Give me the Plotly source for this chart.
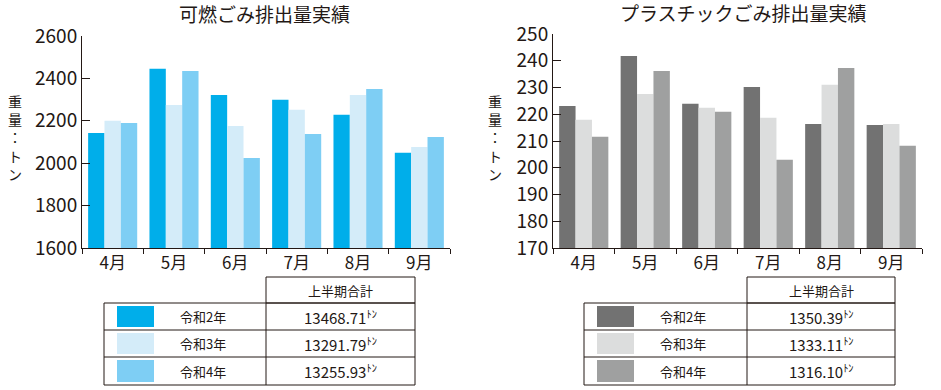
import plotly.graph_objects as go

months = ["4月", "5月", "6月", "7月", "8月", "9月"]
years = ["令和2年", "令和3年", "令和4年"]

burn_r2 = [2143, 2445, 2322, 2299, 2228, 2049]
burn_r3 = [2200, 2275, 2176, 2252, 2322, 2077]
burn_r4 = [2190, 2435, 2025, 2138, 2350, 2124]
burn_totals = ["13468.71", "13291.79", "13255.93"]

plas_r2 = [223.1, 241.8, 223.9, 230.2, 216.4, 216.0]
plas_r3 = [217.9, 227.6, 222.4, 218.7, 231.0, 216.4]
plas_r4 = [211.6, 236.2, 220.9, 203.0, 237.3, 208.2]
plas_totals = ["1350.39", "1333.11", "1316.10"]

burn_colors = ["#00AEEA", "#D4ECF9", "#7ECEF4"]
plas_colors = ["#727272", "#DCDDDD", "#9FA0A0"]

W, H = 941, 390
FONT = "Noto Sans CJK JP"
INK = "#231815"

def px(x):
    return x / W

def py(y):
    return 1 - y / H

fig = go.Figure()
for vals, col, name in zip([burn_r2, burn_r3, burn_r4], burn_colors, years):
    fig.add_trace(go.Bar(x=months, y=vals, marker_color=col, marker_line_width=0,
                         name=name, xaxis="x", yaxis="y", showlegend=False))
for vals, col, name in zip([plas_r2, plas_r3, plas_r4], plas_colors, years):
    fig.add_trace(go.Bar(x=months, y=vals, marker_color=col, marker_line_width=0,
                         name=name, xaxis="x2", yaxis="y2", showlegend=False))

axfont = dict(family=FONT, size=19, color=INK)
common_x = dict(type="category", showline=True, linecolor=INK, linewidth=1,
                ticks="outside", tickson="boundaries", ticklen=5, tickcolor=INK,
                showgrid=False, automargin=False,
                tickfont=dict(family=FONT, size=17, color=INK))
common_y = dict(showline=True, linecolor=INK, linewidth=1, ticks="inside",
                ticklen=8, tickcolor=INK, showgrid=False, zeroline=False,
                automargin=False, tickfont=axfont)

fig.update_layout(
    width=W, height=H, margin=dict(l=0, r=0, t=0, b=0),
    paper_bgcolor="white", plot_bgcolor="white",
    barmode="group", bargap=0.2, bargroupgap=0,
    xaxis=dict(domain=[px(82), px(450)], anchor="y", **common_x),
    yaxis=dict(domain=[py(248), py(36)], anchor="x", range=[1600, 2600], dtick=200, **common_y),
    xaxis2=dict(domain=[px(553), px(922)], anchor="y2", **common_x),
    yaxis2=dict(domain=[py(248), py(34)], anchor="x2", range=[170, 250], dtick=10, **common_y),
)

ann = []

def add_text(text, x, y, size, angle=0):
    ann.append(dict(text=text, x=px(x), y=py(y), xref="paper", yref="paper",
                    xanchor="center", yanchor="middle", showarrow=False, textangle=angle,
                    font=dict(family=FONT, size=size, color=INK)))

add_text("可燃ごみ排出量実績", 264, 14, 19)
add_text("プラスチックごみ排出量実績", 743, 13, 19)
ytitle = "<br>".join(list("重量：トン"))
for xc in [15, 495]:
    add_text(ytitle, xc, 137, 14)

shapes = []
rows_y = [303, 330, 357, 385]

def table(x0, xdiv, x1, colors, totals):
    line = dict(color=INK, width=1)
    shapes.append(dict(type="rect", xref="paper", yref="paper", x0=px(xdiv), x1=px(x1),
                       y0=py(rows_y[0]), y1=py(277), line=line))
    shapes.append(dict(type="rect", xref="paper", yref="paper", x0=px(x0), x1=px(x1),
                       y0=py(rows_y[3]), y1=py(rows_y[0]), line=line))
    for yy in rows_y[1:3]:
        shapes.append(dict(type="line", xref="paper", yref="paper", x0=px(x0), x1=px(x1),
                           y0=py(yy), y1=py(yy), line=line))
    shapes.append(dict(type="line", xref="paper", yref="paper", x0=px(xdiv), x1=px(xdiv),
                       y0=py(rows_y[3]), y1=py(rows_y[0]), line=line))
    add_text("上半期合計", (xdiv + x1) / 2, 290, 13)
    for i in range(3):
        top, bot = rows_y[i], rows_y[i + 1]
        shapes.append(dict(type="rect", xref="paper", yref="paper", x0=px(x0 + 13), x1=px(x0 + 50),
                           y0=py(bot - 3), y1=py(top + 3), line=dict(width=0), fillcolor=colors[i]))
        add_text(years[i], x0 + 99, (top + bot) / 2, 13)
        add_text(totals[i] + "<sup>ﾄﾝ</sup>", (xdiv + x1) / 2, (top + bot) / 2, 15)

table(104, 266, 415, burn_colors, burn_totals)
table(584, 747, 895, plas_colors, plas_totals)

fig.update_layout(annotations=ann, shapes=shapes)
fig.write_html("out.html", config={"displayModeBar": False},
               post_script="document.body.style.margin='0';document.body.style.overflow='hidden';")
